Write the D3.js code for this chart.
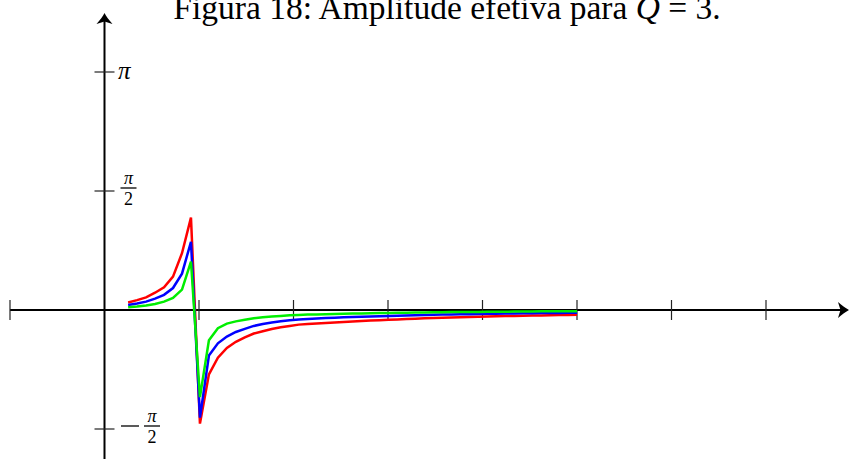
<!DOCTYPE html>
<html>
<head>
<meta charset="utf-8">
<script src="https://cdn.jsdelivr.net/npm/d3@7"></script>
<style>
  html, body { margin: 0; padding: 0; background: #fff; }
  svg { display: block; }
</style>
</head>
<body>
<svg id="chart" width="850" height="459"></svg>
<script>
// Sample abscissae: 51 points from 0.25 to 5.0
const xs = d3.range(51).map(i => +(0.25 + 0.095 * i).toFixed(3));

const redValues = [
  0.100, 0.130, 0.167, 0.228, 0.300, 0.440, 0.750, 1.220,
  -1.500, -0.850, -0.630, -0.500, -0.420, -0.360, -0.310, -0.280, -0.250, -0.228, -0.210,
  -0.193, -0.185, -0.178, -0.171, -0.164, -0.158, -0.152, -0.146, -0.140, -0.134,
  -0.129, -0.124, -0.119, -0.114, -0.110, -0.106, -0.102, -0.098, -0.095, -0.092,
  -0.089, -0.086, -0.083, -0.080, -0.078, -0.076, -0.073, -0.071, -0.069, -0.067,
  -0.065, -0.063
];
const blueValues = [
  0.066, 0.085, 0.110, 0.150, 0.200, 0.290, 0.480, 0.900,
  -1.420, -0.600, -0.440, -0.350, -0.290, -0.250, -0.210, -0.185, -0.165, -0.148, -0.135,
  -0.124, -0.118, -0.112, -0.107, -0.102, -0.097, -0.093, -0.089, -0.085, -0.081,
  -0.078, -0.075, -0.072, -0.069, -0.066, -0.064, -0.061, -0.059, -0.057, -0.055,
  -0.053, -0.051, -0.049, -0.047, -0.046, -0.044, -0.042, -0.041, -0.039, -0.038,
  -0.036, -0.035
];
const greenValues = [
  0.035, 0.045, 0.060, 0.080, 0.110, 0.160, 0.270, 0.640,
  -1.150, -0.400, -0.240, -0.180, -0.150, -0.130, -0.110, -0.097, -0.087, -0.078, -0.070,
  -0.065, -0.061, -0.058, -0.055, -0.052, -0.050, -0.047, -0.045, -0.043, -0.041,
  -0.039, -0.037, -0.035, -0.034, -0.032, -0.031, -0.029, -0.028, -0.027, -0.026,
  -0.025, -0.024, -0.023, -0.022, -0.021, -0.020, -0.019, -0.018, -0.017, -0.016,
  -0.016, -0.015
];

const seriesColors = ["#ff0000", "#0000ff", "#00ee00"];
const xTickValues = [-1, 1, 2, 3, 4, 5, 6, 7];
const yTickValues = [Math.PI, Math.PI / 2, -Math.PI / 2];

const SERIF = "'Liberation Serif', 'Times New Roman', Times, 'DejaVu Serif', serif";

const svg = d3.select("#chart");

const x = d3.scaleLinear().domain([-1, 7]).range([10, 766]);
const y = d3.scaleLinear().domain([-Math.PI / 2, Math.PI]).range([429, 72]);

// Caption, running off the top edge of the canvas
const title = svg.append("text")
  .attr("font-family", SERIF)
  .attr("x", 447).attr("y", 19)
  .attr("text-anchor", "middle")
  .attr("font-size", 33.5);
title.append("tspan").text("Figura 18: Amplitude efetiva para ");
title.append("tspan").attr("font-style", "italic").text("Q");
title.append("tspan").text(" = 3.");

// Axis lines
svg.append("line")
  .attr("x1", 10).attr("x2", 846)
  .attr("y1", y(0)).attr("y2", y(0))
  .attr("stroke", "#000").attr("stroke-width", 2);
svg.append("line")
  .attr("x1", x(0)).attr("x2", x(0))
  .attr("y1", 459).attr("y2", 16)
  .attr("stroke", "#000").attr("stroke-width", 2);

// Arrow heads
function arrowHead(tx, ty, angle) {
  svg.append("path")
    .attr("d", "M0,0 C-3,-1.5 -7,-4.5 -11,-8 L-8.5,0 L-11,8 C-7,4.5 -3,1.5 0,0 Z")
    .attr("transform", `translate(${tx},${ty}) rotate(${angle})`)
    .attr("fill", "#000");
}
arrowHead(849, y(0), 0);
arrowHead(x(0), 13, -90);

// Tick marks crossing the axes
svg.append("g").selectAll("line")
  .data(xTickValues).join("line")
  .attr("x1", d => x(d)).attr("x2", d => x(d))
  .attr("y1", y(0) - 10).attr("y2", y(0) + 10)
  .attr("stroke", "#222").attr("stroke-width", 1.2);
svg.append("g").selectAll("line")
  .data(yTickValues).join("line")
  .attr("x1", x(0) - 10).attr("x2", x(0) + 10)
  .attr("y1", d => y(d)).attr("y2", d => y(d))
  .attr("stroke", "#222").attr("stroke-width", 1.2);

// Y tick labels
const yl = svg.append("g").attr("font-family", SERIF);
yl.append("text").attr("font-style", "italic")
  .attr("x", 118).attr("y", y(Math.PI) + 7)
  .attr("font-size", 25).text("π");

function fraction(g, cx, cy) {
  g.append("text").attr("font-style", "italic")
    .attr("x", cx).attr("y", cy - 4).attr("text-anchor", "middle")
    .attr("font-size", 18).text("π");
  g.append("line")
    .attr("x1", cx - 8).attr("x2", cx + 8)
    .attr("y1", cy).attr("y2", cy)
    .attr("stroke", "#000").attr("stroke-width", 1.3);
  g.append("text")
    .attr("x", cx).attr("y", cy + 17).attr("text-anchor", "middle")
    .attr("font-size", 18).text("2");
}
fraction(yl, 128.5, y(Math.PI / 2) - 3);
yl.append("line")
  .attr("x1", 121).attr("x2", 139)
  .attr("y1", y(-Math.PI / 2) - 3).attr("y2", y(-Math.PI / 2) - 3)
  .attr("stroke", "#000").attr("stroke-width", 1.3);
fraction(yl, 152, y(-Math.PI / 2) - 3);

// Curves
const line = d3.line().x((d, i) => x(xs[i])).y(d => y(d));
[redValues, blueValues, greenValues].forEach((vals, i) => {
  svg.append("path")
    .datum(vals)
    .attr("d", line)
    .attr("fill", "none")
    .attr("stroke", seriesColors[i])
    .attr("stroke-width", 2.5)
    .attr("stroke-linejoin", "miter");
});
</script>
</body>
</html>
